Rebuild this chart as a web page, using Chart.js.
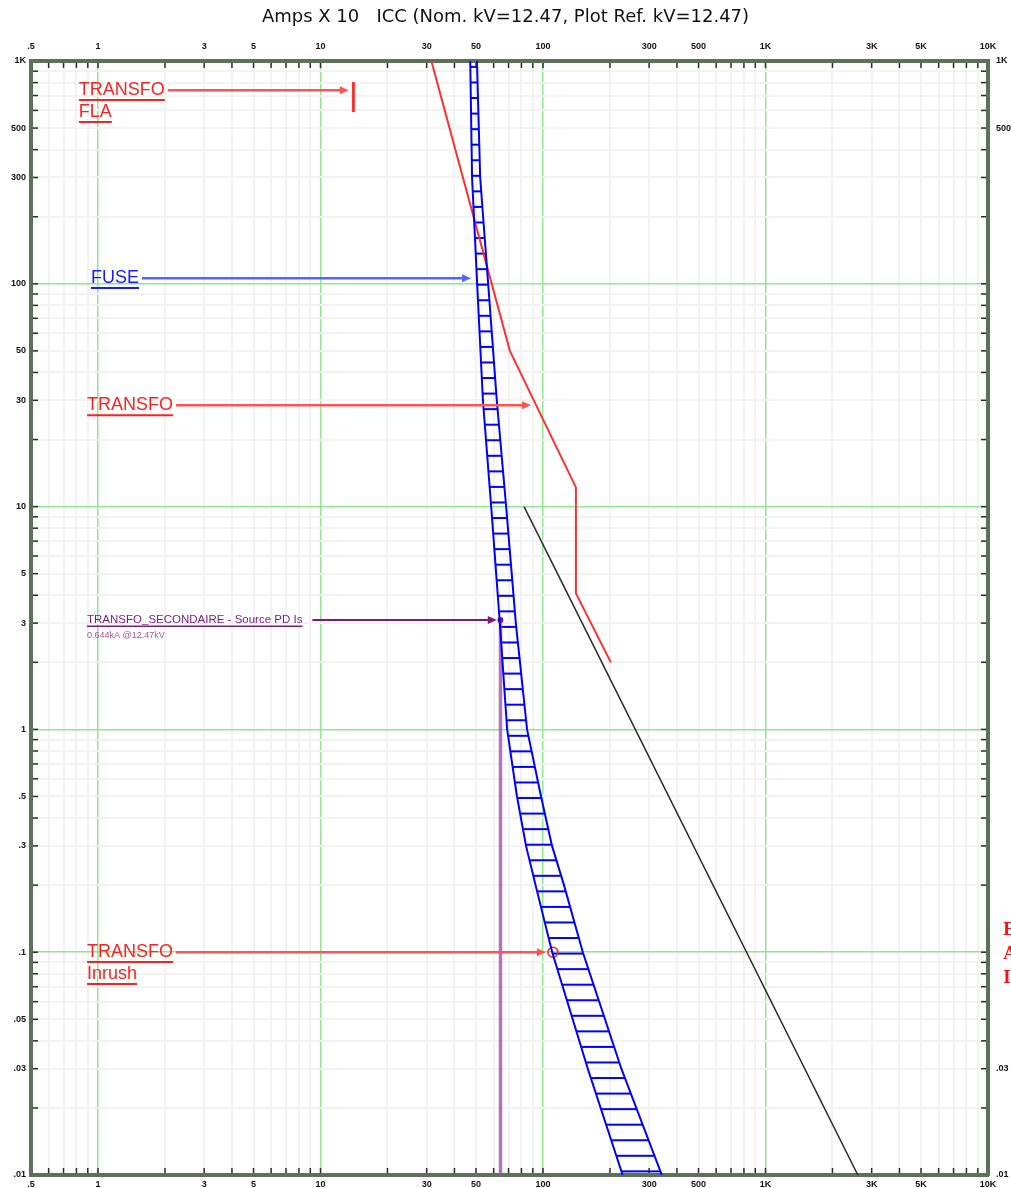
<!DOCTYPE html>
<html>
<head>
<meta charset="utf-8">
<script src="https://cdn.jsdelivr.net/npm/chart.js@4.4.1/dist/chart.umd.min.js"></script>
<style>
  html, body { margin: 0; padding: 0; background: #fff; }
</style>
</head>
<body>
<canvas id="tcc" width="1011" height="1188"></canvas>
<script>
// time-current data, amps (x10) vs seconds
const fuseTime = [1000, 300, 100, 30, 10, 3, 1, 0.5, 0.3, 0.2, 0.1, 0.05, 0.03, 0.01];
const fuseMinMelt = [47.1, 48.0, 50.6, 53.7, 58.5, 64, 69, 76.4, 83.9, 92.6, 110, 136, 159, 228];
const fuseTotalClear = [50.5, 52.2, 56.7, 62.0, 68.3, 75.5, 84.8, 98, 109.8, 124.3, 151, 190, 225, 342];

const transfoAmps = [31.5, 71, 140.6, 140.6, 201.8];
const transfoTime = [1000, 50, 12.2, 4.08, 2.0];

const flaAmps = [14.06, 14.06];
const flaTime = [590, 805];

const inrushAmps = [110.9];
const inrushTime = [0.1];

const damageAmps = [82.2, 2600];
const damageTime = [10, 0.01];

const sourceIscAmps = [64.4, 64.4];
const sourceIscTime = [3.1, 0.01];

const xLabelValues = [0.5, 1, 3, 5, 10, 30, 50, 100, 300, 500, 1000, 3000, 5000, 10000];
const xLabelTexts = ['.5', '1', '3', '5', '10', '30', '50', '100', '300', '500', '1K', '3K', '5K', '10K'];
const yLabelValues = [1000, 500, 300, 100, 50, 30, 10, 5, 3, 1, 0.5, 0.3, 0.1, 0.05, 0.03, 0.01];
const yLabelTexts = ['1K', '500', '300', '100', '50', '30', '10', '5', '3', '1', '.5', '.3', '.1', '.05', '.03', '.01'];
const y2LabelValues = [1000, 500, 0.03, 0.01];
const y2LabelTexts = ['1K', '500', '.03', '.01'];

const notes = [
    { lines: ['TRANSFO', 'FLA'], color: '#ff1f1f', arrow: '#ff5252', x: 0.82, t: 740, tip: 13.4, size: 18 },
    { lines: ['FUSE'], color: '#1a1aff', arrow: '#4f66ff', x: 0.93, t: 106, tip: 47.5, size: 18 },
    { lines: ['TRANSFO'], color: '#ff1f1f', arrow: '#ff5252', x: 0.893, t: 28.5, tip: 88.4, size: 18 },
    { lines: ['TRANSFO_SECONDAIRE - Source PD Is'], sub: '0.644kA @12.47kV', color: '#7a1a7a', arrow: '#7a1a7a', x: 0.893, t: 3.1, tip: 62, size: 11.5 },
    { lines: ['TRANSFO', 'Inrush'], color: '#ff1f1f', arrow: '#ff5252', x: 0.893, t: 0.1, tip: 103, size: 18 },
];

function logSteps(lo, hi) {
    const out = [];
    for (let e = -3; e <= 5; e++) {
        for (let m = 1; m <= 9; m++) {
            const v = +(m * Math.pow(10, e)).toPrecision(3);
            if (v >= lo * 0.999999 && v <= hi * 1.000001) out.push(v);
        }
    }
    return out;
}

function labelFor(v, values, texts) {
    const i = values.findIndex(lv => Math.abs(v - lv) / lv < 1e-6);
    return i < 0 ? '' : texts[i];
}

function isDecade(v, lo, hi) {
    if (v === undefined) return false;
    const l = Math.log10(v);
    if (Math.abs(l - Math.round(l)) > 1e-6) return false;
    return Math.abs(v - lo) / lo > 1e-6 && Math.abs(v - hi) / hi > 1e-6;
}

const pts = (xs, ys) => xs.map((x, i) => ({ x: x, y: ys[i] }));

const xSteps = logSteps(0.5, 10000);
const ySteps = logSteps(0.01, 1000);

const tickFont = { family: 'Liberation Sans', size: 9, weight: 'bold' };
const frame = { display: true, color: '#5b7158', width: 4 };

function gridOpts(lo, hi) {
    return {
        drawTicks: false,
        color: ctx => isDecade(ctx.tick && ctx.tick.value, lo, hi) ? '#8fe88f' : '#f2f2f2',
        lineWidth: ctx => isDecade(ctx.tick && ctx.tick.value, lo, hi) ? 1.5 : 2,
    };
}

function hatchPattern(ctx) {
    const c = document.createElement('canvas');
    c.width = 8;
    c.height = 140;
    const g = c.getContext('2d');
    g.strokeStyle = '#0000ff';
    g.lineWidth = 2;
    for (let k = 0; k < 9; k++) {
        const y = 4.7 + k * 140 / 9;
        g.beginPath();
        g.moveTo(0, y);
        g.lineTo(8, y);
        g.stroke();
    }
    return ctx.createPattern(c, 'repeat');
}

// hatched fuse band between min melt and total clear
const bandHatch = {
    id: 'bandHatch',
    beforeDatasetsDraw(chart) {
        const lo = chart.getDatasetMeta(0).data;
        const hi = chart.getDatasetMeta(1).data;
        const { ctx, chartArea: a } = chart;
        ctx.save();
        ctx.beginPath();
        ctx.rect(a.left, a.top, a.right - a.left, a.bottom - a.top);
        ctx.clip();
        ctx.beginPath();
        lo.forEach((p, i) => (i ? ctx.lineTo(p.x, p.y) : ctx.moveTo(p.x, p.y)));
        hi.slice().reverse().forEach(p => ctx.lineTo(p.x, p.y));
        ctx.closePath();
        ctx.fillStyle = hatchPattern(ctx);
        ctx.fill();
        ctx.restore();
    },
};

// short tick marks inside the frame
const innerTicks = {
    id: 'innerTicks',
    afterDraw(chart) {
        const { ctx, chartArea: a, scales } = chart;
        ctx.save();
        ctx.strokeStyle = '#2a2a2a';
        ctx.lineWidth = 1.5;
        const seg = (x1, y1, x2, y2) => {
            ctx.beginPath();
            ctx.moveTo(x1, y1);
            ctx.lineTo(x2, y2);
            ctx.stroke();
        };
        xSteps.forEach(v => {
            const px = scales.x.getPixelForValue(v);
            if (px < a.left + 3 || px > a.right - 3) return;
            seg(px, a.top + 2, px, a.top + 7);
            seg(px, a.bottom - 7, px, a.bottom - 2);
        });
        ySteps.forEach(v => {
            const py = scales.y.getPixelForValue(v);
            if (py < a.top + 3 || py > a.bottom - 3) return;
            seg(a.left + 2, py, a.left + 7, py);
            seg(a.right - 7, py, a.right - 2, py);
        });
        ctx.restore();
    },
};

// underlined labels with arrows
const labels = {
    id: 'labels',
    afterDatasetsDraw(chart) {
        const { ctx, scales } = chart;
        ctx.save();
        notes.forEach(n => {
            const x0 = scales.x.getPixelForValue(n.x);
            const y0 = scales.y.getPixelForValue(n.t);
            ctx.font = n.size + 'px "Liberation Sans", Arial, sans-serif';
            ctx.textBaseline = 'middle';
            ctx.textAlign = 'left';
            let firstW = 0;
            n.lines.forEach((s, i) => {
                const y = y0 + i * 22;
                const w = ctx.measureText(s).width;
                if (i === 0) firstW = w;
                ctx.fillStyle = n.color;
                ctx.fillText(s, x0, y);
                ctx.strokeStyle = n.color;
                ctx.lineWidth = n.size > 12 ? 2 : 1.5;
                const uy = y + n.size * 0.55;
                ctx.beginPath();
                ctx.moveTo(x0, uy);
                ctx.lineTo(x0 + w, uy);
                ctx.stroke();
            });
            if (n.sub) {
                ctx.font = '9px "Liberation Sans", Arial, sans-serif';
                ctx.fillStyle = '#a05aa0';
                ctx.fillText(n.sub, x0, y0 + 16);
            }
            const xs = x0 + firstW + (n.size > 12 ? 3 : 10);
            const xt = scales.x.getPixelForValue(n.tip);
            ctx.strokeStyle = n.arrow;
            ctx.fillStyle = n.arrow;
            ctx.lineWidth = n.size > 12 ? 2.5 : 2;
            ctx.beginPath();
            ctx.moveTo(xs, y0);
            ctx.lineTo(xt - 7, y0);
            ctx.stroke();
            ctx.beginPath();
            ctx.moveTo(xt, y0);
            ctx.lineTo(xt - 9, y0 - 4);
            ctx.lineTo(xt - 9, y0 + 4);
            ctx.closePath();
            ctx.fill();
        });
        // clipped red text at the right edge
        const xr = scales.x.getPixelForValue(11700);
        const yr = scales.y.getPixelForValue(0.1);
        ctx.font = 'bold 19px "Liberation Serif", serif';
        ctx.fillStyle = '#ff1010';
        ctx.textBaseline = 'middle';
        ['B', 'A', 'I'].forEach((s, i) => ctx.fillText(s, xr, yr - 22 + i * 24));
        ctx.restore();
    },
};

const axisCommon = {
    type: 'logarithmic',
    border: frame,
};

new Chart(document.getElementById('tcc'), {
    type: 'scatter',
    data: {
        datasets: [
            {
                label: 'FUSE min melt',
                data: pts(fuseMinMelt, fuseTime),
                showLine: true,
                borderColor: '#0000ff',
                borderWidth: 2,
                pointRadius: 0,
            },
            {
                label: 'FUSE total clear',
                data: pts(fuseTotalClear, fuseTime),
                showLine: true,
                borderColor: '#0000ff',
                borderWidth: 2,
                pointRadius: 0,
            },
            {
                label: 'TRANSFO',
                data: pts(transfoAmps, transfoTime),
                showLine: true,
                borderColor: '#ff3030',
                borderWidth: 2,
                pointRadius: 0,
            },
            {
                label: 'TRANSFO FLA',
                data: pts(flaAmps, flaTime),
                showLine: true,
                borderColor: '#ff3030',
                borderWidth: 3,
                pointRadius: 0,
            },
            {
                label: 'Damage',
                data: pts(damageAmps, damageTime),
                showLine: true,
                borderColor: '#2a2a2a',
                borderWidth: 1.5,
                pointRadius: 0,
            },
            {
                label: 'Source PD Isc',
                data: pts(sourceIscAmps, sourceIscTime),
                showLine: true,
                borderColor: 'rgba(160, 80, 175, 0.8)',
                borderWidth: 3.5,
                pointRadius: [3, 0],
                pointBackgroundColor: '#7a1a7a',
                pointBorderWidth: 0,
            },
            {
                label: 'TRANSFO Inrush',
                data: pts(inrushAmps, inrushTime),
                showLine: false,
                pointRadius: 5,
                pointBorderColor: '#ff2020',
                pointBackgroundColor: 'rgba(0,0,0,0)',
                pointBorderWidth: 1.5,
            },
        ],
    },
    options: {
        responsive: false,
        animation: false,
        layout: { padding: 0 },
        plugins: {
            legend: { display: false },
            tooltip: { enabled: false },
            title: {
                display: true,
                text: 'Amps X 10   ICC (Nom. kV=12.47, Plot Ref. kV=12.47)',
                color: '#111',
                font: { family: 'DejaVu Sans', size: 18, weight: 'normal', lineHeight: 1.2 },
                padding: { top: 7, bottom: 0 },
            },
        },
        scales: {
            x: {
                ...axisCommon,
                position: 'bottom',
                min: 0.5,
                max: 10000,
                afterBuildTicks: s => { s.ticks = xSteps.map(v => ({ value: v })); },
                afterFit: s => { s.height = 13; s.paddingLeft = 0; s.paddingRight = 0; },
                grid: gridOpts(0.5, 10000),
                ticks: {
                    autoSkip: false, maxRotation: 0, padding: 4, font: tickFont, color: '#111',
                    callback: v => labelFor(v, xLabelValues, xLabelTexts),
                },
            },
            x2: {
                ...axisCommon,
                position: 'top',
                min: 0.5,
                max: 10000,
                afterBuildTicks: s => { s.ticks = xSteps.map(v => ({ value: v })); },
                afterFit: s => { s.height = 32.4; s.paddingLeft = 0; s.paddingRight = 0; },
                grid: { display: false, drawTicks: false },
                ticks: {
                    autoSkip: false, maxRotation: 0, padding: 9, font: tickFont, color: '#111',
                    callback: v => labelFor(v, xLabelValues, xLabelTexts),
                },
            },
            y: {
                ...axisCommon,
                position: 'left',
                min: 0.01,
                max: 1000,
                afterBuildTicks: s => { s.ticks = ySteps.map(v => ({ value: v })); },
                afterFit: s => { s.width = 31; s.paddingTop = 0; s.paddingBottom = 0; },
                grid: gridOpts(0.01, 1000),
                ticks: {
                    autoSkip: false, padding: 5, font: tickFont, color: '#111',
                    callback: v => labelFor(v, yLabelValues, yLabelTexts),
                },
            },
            y2: {
                ...axisCommon,
                position: 'right',
                min: 0.01,
                max: 1000,
                afterBuildTicks: s => { s.ticks = ySteps.map(v => ({ value: v })); },
                afterFit: s => { s.width = 23; s.paddingTop = 0; s.paddingBottom = 0; },
                grid: { display: false, drawTicks: false },
                ticks: {
                    autoSkip: false, padding: 8, font: tickFont, color: '#111',
                    callback: v => labelFor(v, y2LabelValues, y2LabelTexts),
                },
            },
        },
    },
    plugins: [bandHatch, innerTicks, labels],
});
</script>
</body>
</html>
